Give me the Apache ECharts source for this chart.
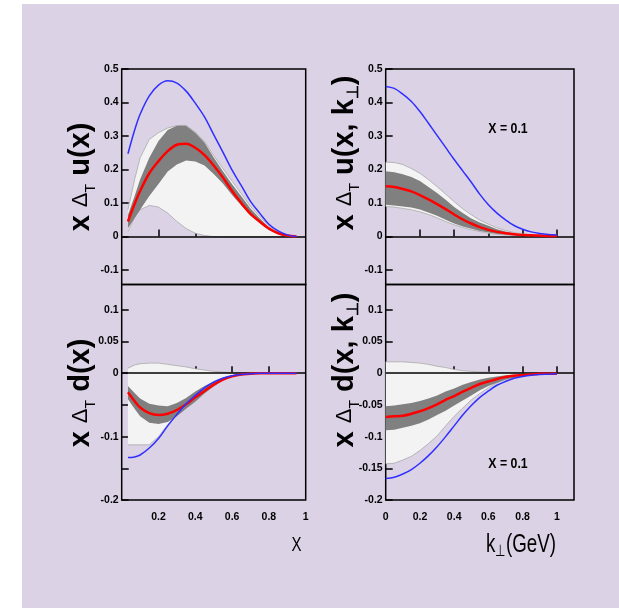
<!DOCTYPE html>
<html>
<head>
<meta charset="UTF-8">
<title>transversity</title>
<script src="https://cdn.jsdelivr.net/npm/echarts@6/dist/echarts.min.js"></script>
<style>
  html, body { margin: 0; padding: 0; background: #fff; }
  #bg { position: absolute; left: 22px; top: 4px; width: 597px; height: 604px; background: #dcd2e6; }
  #main { position: absolute; left: 0; top: 0; width: 619px; height: 608px; }
</style>
</head>
<body>
<div id="bg"></div>
<div id="main"></div>
<script>
// ---- x grids ----
var xVals = [0.034, 0.07, 0.1, 0.15, 0.2, 0.25, 0.3, 0.35, 0.4, 0.45, 0.5, 0.55, 0.6, 0.65, 0.7, 0.75, 0.8, 0.85, 0.9, 0.95];
var kVals = [0, 0.05, 0.1, 0.15, 0.2, 0.25, 0.3, 0.35, 0.4, 0.45, 0.5, 0.55, 0.6, 0.65, 0.7, 0.75, 0.8, 0.85, 0.9, 0.95, 1.0];

// ---- x Delta_T u(x) ----
var uBlue    = [0.247, 0.317, 0.365, 0.42, 0.452, 0.465, 0.458, 0.434, 0.398, 0.357, 0.304, 0.252, 0.198, 0.152, 0.105, 0.07, 0.037, 0.017, 0.005, 0.0];
var uRed     = [0.045, 0.097, 0.136, 0.189, 0.225, 0.255, 0.274, 0.277, 0.265, 0.243, 0.212, 0.176, 0.136, 0.1, 0.068, 0.045, 0.024, 0.01, 0.003, 0.0];
var uDarkHi  = [0.065, 0.12, 0.17, 0.235, 0.285, 0.318, 0.331, 0.331, 0.31, 0.281, 0.236, 0.195, 0.156, 0.12, 0.084, 0.055, 0.028, 0.012, 0.004, 0.0];
var uDarkLo  = [0.025, 0.055, 0.08, 0.121, 0.157, 0.194, 0.215, 0.227, 0.224, 0.212, 0.187, 0.158, 0.124, 0.093, 0.063, 0.04, 0.019, 0.008, 0.002, 0.0];
var uLightHi = [0.08, 0.17, 0.235, 0.29, 0.31, 0.324, 0.331, 0.332, 0.312, 0.284, 0.242, 0.203, 0.165, 0.128, 0.09, 0.06, 0.031, 0.013, 0.004, 0.0];
var uLightLo = [0.015, 0.058, 0.08, 0.093, 0.088, 0.07, 0.045, 0.024, 0.01, 0.003, 0, 0, 0, 0, 0, 0, 0, 0, 0, 0];

// ---- x Delta_T d(x) ----
var dBlue    = [-0.133, -0.132, -0.129, -0.118, -0.103, -0.083, -0.065, -0.048, -0.035, -0.023, -0.014, -0.008, -0.004, -0.002, -0.001, 0, 0, 0, 0, 0];
var dRed     = [-0.03, -0.044, -0.054, -0.063, -0.066, -0.064, -0.058, -0.049, -0.038, -0.028, -0.018, -0.01, -0.005, -0.002, -0.001, 0, 0, 0, 0, 0];
var dDarkHi  = [-0.02, -0.031, -0.04, -0.048, -0.051, -0.052, -0.047, -0.039, -0.029, -0.02, -0.013, -0.007, -0.004, -0.002, -0.001, 0, 0, 0, 0, 0];
var dDarkLo  = [-0.041, -0.056, -0.068, -0.078, -0.08, -0.077, -0.068, -0.056, -0.045, -0.032, -0.021, -0.012, -0.006, -0.003, -0.001, 0, 0, 0, 0, 0];
var dLightHi = [0.008, 0.013, 0.015, 0.016, 0.016, 0.014, 0.012, 0.01, 0.007, 0.005, 0.003, 0.002, 0.001, 0.0005, 0, 0, 0, 0, 0, 0];
var dLightLo = [-0.113, -0.113, -0.113, -0.113, -0.1, -0.081, -0.063, -0.046, -0.034, -0.022, -0.013, -0.007, -0.004, -0.002, -0.001, 0, 0, 0, 0, 0];

// ---- x Delta_T u(x, kT), x = 0.1 ----
var ukBlue    = [0.448, 0.442, 0.425, 0.403, 0.373, 0.338, 0.302, 0.266, 0.23, 0.196, 0.162, 0.126, 0.095, 0.07, 0.05, 0.033, 0.022, 0.014, 0.009, 0.006, 0.005];
var ukRed     = [0.15, 0.148, 0.142, 0.135, 0.124, 0.111, 0.097, 0.082, 0.066, 0.051, 0.039, 0.028, 0.02, 0.014, 0.01, 0.007, 0.005, 0.004, 0.003, 0.002, 0.002];
var ukDarkHi  = [0.195, 0.192, 0.186, 0.178, 0.166, 0.148, 0.13, 0.11, 0.088, 0.07, 0.054, 0.042, 0.032, 0.022, 0.015, 0.01, 0.007, 0.005, 0.004, 0.003, 0.002];
var ukDarkLo  = [0.095, 0.093, 0.09, 0.087, 0.081, 0.072, 0.062, 0.05, 0.039, 0.03, 0.023, 0.017, 0.012, 0.008, 0.006, 0.004, 0.003, 0.002, 0.002, 0.001, 0.001];
var ukLightHi = [0.222, 0.221, 0.215, 0.203, 0.189, 0.17, 0.149, 0.127, 0.104, 0.083, 0.065, 0.049, 0.037, 0.026, 0.018, 0.012, 0.008, 0.006, 0.004, 0.003, 0.002];
var ukLightLo = [0.09, 0.088, 0.084, 0.08, 0.074, 0.066, 0.056, 0.045, 0.035, 0.027, 0.02, 0.015, 0.01, 0.007, 0.005, 0.003, 0.002, 0.002, 0.001, 0.001, 0.001];

// ---- x Delta_T d(x, kT), x = 0.1 ----
var dkBlue    = [-0.166, -0.164, -0.159, -0.152, -0.142, -0.13, -0.116, -0.1, -0.083, -0.066, -0.051, -0.038, -0.028, -0.019, -0.013, -0.008, -0.005, -0.003, -0.002, -0.0015, -0.001];
var dkRed     = [-0.069, -0.068, -0.067, -0.064, -0.06, -0.055, -0.049, -0.042, -0.036, -0.029, -0.023, -0.017, -0.013, -0.009, -0.006, -0.004, -0.003, -0.002, -0.001, -0.001, -0.001];
var dkDarkHi  = [-0.052, -0.051, -0.049, -0.047, -0.044, -0.04, -0.035, -0.029, -0.024, -0.018, -0.014, -0.01, -0.007, -0.005, -0.003, -0.002, -0.002, -0.001, -0.001, -0.001, -0.001];
var dkDarkLo  = [-0.09, -0.089, -0.086, -0.083, -0.079, -0.073, -0.066, -0.059, -0.051, -0.043, -0.035, -0.027, -0.02, -0.015, -0.01, -0.007, -0.005, -0.003, -0.002, -0.001, -0.001];
var dkLightHi = [0.018, 0.018, 0.018, 0.017, 0.016, 0.014, 0.011, 0.009, 0.006, 0.004, 0.003, 0.002, 0.002, 0.001, 0.001, 0.0005, 0, 0, 0, 0, 0];
var dkLightLo = [-0.143, -0.142, -0.137, -0.131, -0.122, -0.111, -0.099, -0.083, -0.068, -0.055, -0.042, -0.032, -0.023, -0.015, -0.01, -0.006, -0.004, -0.003, -0.002, -0.001, -0.001];

// ---- tick values ----
var xTicks = [0.2, 0.4, 0.6, 0.8];
var xLabels = [0.2, 0.4, 0.6, 0.8, 1];
var kTicks = [0.2, 0.4, 0.6, 0.8, 1];
var kLabels = [0, 0.2, 0.4, 0.6, 0.8, 1];
var uTicks = [-0.1, 0, 0.1, 0.2, 0.3, 0.4, 0.5];
var dTicks = [-0.2, -0.15, -0.1, -0.05, 0, 0.05, 0.1];
var dLabels = [-0.2, -0.1, 0, 0.05, 0.1];

var LAB = "'Liberation Sans', Arial, sans-serif";

function pairs(xs, ys) {
  return xs.map(function (x, i) { return [x, ys[i]]; });
}
function fmt(v) { return String(+(+v).toFixed(2)); }

function curve(idx, xs, ys, color, width, zero) {
  var s = {
    type: 'line', xAxisIndex: idx, yAxisIndex: idx,
    data: pairs(xs, ys), showSymbol: false, smooth: 0.35, silent: true,
    lineStyle: { color: color, width: width }, z: 5
  };
  if (zero) {
    s.markLine = {
      silent: true, symbol: 'none', label: { show: false },
      lineStyle: { color: '#000', width: 1.5, type: 'solid' },
      data: [{ yAxis: 0 }]
    };
  }
  return s;
}

// filled band between lo and hi, mapped through the axes
function band(idx, xs, lo, hi, fill, edge) {
  return {
    type: 'custom', xAxisIndex: idx, yAxisIndex: idx, data: [0], silent: true, z: 2,
    renderItem: function (params, api) {
      var top = [], bot = [];
      for (var i = 0; i < xs.length; i++) {
        top.push(api.coord([xs[i], hi[i]]));
        bot.push(api.coord([xs[i], lo[i]]));
      }
      var poly = top.concat(bot.slice().reverse());
      var kids = [{ type: 'polygon', shape: { points: poly }, style: { fill: fill } }];
      if (edge) {
        kids.push({ type: 'polyline', shape: { points: top }, style: { fill: null, stroke: edge, lineWidth: 0.8 } });
        kids.push({ type: 'polyline', shape: { points: bot }, style: { fill: null, stroke: edge, lineWidth: 0.8 } });
      }
      return { type: 'group', children: kids };
    }
  };
}

function xAxisDef(idx, max, ticks, labels) {
  return {
    type: 'value', gridIndex: idx, min: 0, max: max, position: 'bottom',
    axisLine: { show: false }, splitLine: { show: false },
    axisTick: { show: true, inside: true, length: 7, lineStyle: { color: '#000', width: 1.5 }, customValues: ticks },
    axisLabel: {
      show: !!labels, customValues: labels || [], margin: 12, color: '#000',
      fontFamily: LAB, fontWeight: 'bold', fontSize: 10.5, formatter: fmt
    }
  };
}
function yAxisDef(idx, min, max, ticks, labels) {
  return {
    type: 'value', gridIndex: idx, min: min, max: max,
    axisLine: { show: false }, splitLine: { show: false },
    axisTick: { show: true, inside: true, length: 7, lineStyle: { color: '#000', width: 1.5 }, customValues: ticks },
    axisLabel: {
      customValues: labels, margin: 3, color: '#000',
      fontFamily: LAB, fontWeight: 'bold', fontSize: 10.5, formatter: fmt
    }
  };
}

var GREY_L = '#f3f3f3', GREY_E = '#a8a8a8', GREY_D = '#808080';
var BLUE = '#2f2fff', RED = '#ff0000';

var series = [
  band(0, xVals, uLightLo, uLightHi, GREY_L, GREY_E),
  band(0, xVals, uDarkLo, uDarkHi, GREY_D, null),
  curve(0, xVals, uRed, RED, 2.5), curve(0, xVals, uBlue, BLUE, 1.5, true),

  band(1, kVals, ukLightLo, ukLightHi, GREY_L, GREY_E),
  band(1, kVals, ukDarkLo, ukDarkHi, GREY_D, null),
  curve(1, kVals, ukRed, RED, 2.5), curve(1, kVals, ukBlue, BLUE, 1.5, true),

  band(2, xVals, dLightLo, dLightHi, GREY_L, GREY_E),
  band(2, xVals, dDarkLo, dDarkHi, GREY_D, null),
  curve(2, xVals, dRed, RED, 2.5), curve(2, xVals, dBlue, BLUE, 1.5, true),

  band(3, kVals, dkLightLo, dkLightHi, GREY_L, GREY_E),
  band(3, kVals, dkDarkLo, dkDarkHi, GREY_D, null),
  curve(3, kVals, dkRed, RED, 2.5), curve(3, kVals, dkBlue, BLUE, 1.5, true)
];

function gridDef(left, top, width) {
  return {
    left: left, top: top, width: width, height: 215.5, show: true,
    borderColor: '#000', borderWidth: 1.5, backgroundColor: 'transparent',
    containLabel: false, outerBoundsMode: 'none'
  };
}

function yTitle(cx, cy, tail) {
  return {
    type: 'text', x: cx, y: cy, rotation: Math.PI / 2, silent: true,
    style: {
      text: '{b|x }{d|\u0394}{s|T}{b| ' + tail + '}',
      align: 'center', verticalAlign: 'middle', fill: '#000',
      rich: {
        b: { fontFamily: LAB, fontWeight: 'bold', fontSize: 29, lineHeight: 34, fill: '#000' },
        d: { fontFamily: LAB, fontSize: 22, lineHeight: 34, fill: '#000' },
        s: { fontFamily: LAB, fontSize: 14, lineHeight: 14, verticalAlign: 'bottom', fill: '#000' },
        k: { fontFamily: LAB, fontSize: 16, lineHeight: 16, verticalAlign: 'bottom', fill: '#000', fontWeight: 'bold' }
      }
    }
  };
}

function note(cx, cy, txt, font, sx) {
  return {
    type: 'text', x: cx, y: cy, scaleX: sx, silent: true,
    style: { text: txt, font: font, fill: '#000', align: 'center', verticalAlign: 'middle' }
  };
}

var chart = echarts.init(document.getElementById('main'));
chart.setOption({
  animation: false,
  grid: [
    gridDef(121.7, 69, 184),
    gridDef(385.7, 69, 188.3),
    gridDef(121.7, 284.5, 184),
    gridDef(385.7, 284.5, 188.3)
  ],
  xAxis: [
    xAxisDef(0, 1, xTicks, null),
    xAxisDef(1, 1.1, kTicks, null),
    xAxisDef(2, 1, xTicks, xLabels),
    xAxisDef(3, 1.1, kTicks, kLabels)
  ],
  yAxis: [
    yAxisDef(0, -0.143, 0.5, uTicks, uTicks),
    yAxisDef(1, -0.143, 0.5, uTicks, uTicks),
    yAxisDef(2, -0.2, 0.14, dTicks, dLabels),
    yAxisDef(3, -0.2, 0.14, dTicks, dTicks)
  ],
  series: series,
  graphic: [
    yTitle(81, 177, 'u(x)'),
    yTitle(345, 153, 'u(x, k}{k|\u22a5}{b|)'),
    yTitle(81, 393, 'd(x)'),
    yTitle(345, 370, 'd(x, k}{k|\u22a5}{b|)'),
    note(296.5, 545, 'X', '20px ' + LAB, 0.75),
    {
      type: 'text', x: 521, y: 545, scaleX: 0.75, silent: true,
      style: {
        text: '{a|k}{s|\u22a5}{a|(GeV)}', align: 'center', verticalAlign: 'middle', fill: '#000',
        rich: {
          a: { fontFamily: LAB, fontSize: 25, lineHeight: 30, fill: '#000' },
          s: { fontFamily: LAB, fontSize: 16, lineHeight: 16, verticalAlign: 'bottom', fill: '#000' }
        }
      }
    },
    note(508, 129, 'X = 0.1', 'bold 15px ' + LAB, 0.82),
    note(508, 464, 'X = 0.1', 'bold 15px ' + LAB, 0.82)
  ]
});
</script>
</body>
</html>
